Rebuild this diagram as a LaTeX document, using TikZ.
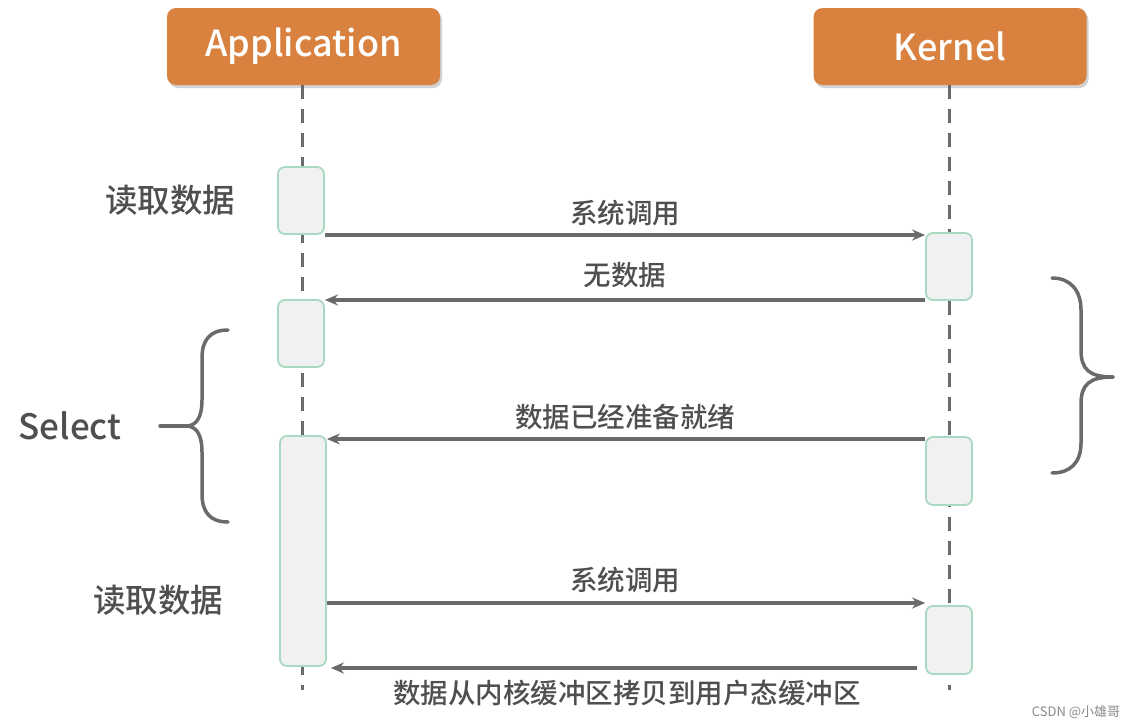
\documentclass[tikz,border=0pt]{standalone}
\usepackage{fontspec}
\setmainfont{Noto Sans CJK SC}[BoldFont={Noto Sans CJK SC Medium}]
\usetikzlibrary{shadows,arrows.meta}
\definecolor{hdr}{HTML}{D9823F}
\definecolor{ln}{HTML}{6A6A6A}
\definecolor{txt}{HTML}{4F4F4F}
\definecolor{actfill}{HTML}{F1F1F1}
\definecolor{actdraw}{HTML}{A9D9C0}
\definecolor{wm}{HTML}{8A8A8A}
\begin{document}
\begin{tikzpicture}[x=1pt,y=-1pt,
  header/.style={fill=hdr, rounded corners=9pt, text=white, font=\bfseries\fontsize{36}{40}\selectfont,
    minimum width=273pt, minimum height=77pt, inner sep=0pt,
    drop shadow={shadow xshift=2pt, shadow yshift=-3pt, opacity=0.35}},
  act/.style={draw=actdraw, fill=actfill, line width=1.8pt, rounded corners=7pt,
    minimum width=46pt, inner sep=0pt},
  life/.style={ln, line width=3pt, dash pattern=on 14pt off 10pt},
  msg/.style={ln, line width=3.2pt, -{Stealth[length=13pt,width=11pt]}},
  lbl/.style={text=txt, font=\bfseries\fontsize{27.5}{30}\selectfont, inner sep=0pt},
  side/.style={text=txt, font=\bfseries\fontsize{32.5}{34}\selectfont, inner sep=0pt},
  brace/.style={ln, line width=3.5pt, line cap=round}]
\useasboundingbox[fill=white] (0,0) rectangle (1138,728);

% headers
\node[header] (app) at (303.5,46.5) {Application};
\node[header] (ker) at (950,46.5) {Kernel};

% lifelines
\coordinate (appEnd) at (302,690);
\coordinate (kerEnd) at (949,690);
\draw[life] (app.south -| appEnd) -- (appEnd);
\draw[life] (ker.south -| kerEnd) -- (kerEnd);

% activations
\node[act, minimum height=67pt] (a1) at (301,200.5) {};
\node[act, minimum height=67pt] (a2) at (301,333.5) {};
\node[act, minimum height=230pt] (a3) at (303,551) {};
\node[act, minimum height=67pt] (k1) at (949,266.5) {};
\node[act, minimum height=68pt] (k2) at (949,471) {};
\node[act, minimum height=68pt] (k3) at (949,640) {};

% messages
\draw[msg] (a1.east |- 0,235) -- (k1.west |- 0,235);
\node[lbl] (m1) at (625,213) {系统调用};
\draw[msg] (k1.west |- 0,300) -- (a2.east |- 0,300);
\node[lbl] (m2) at (625,275) {无数据};
\draw[msg] (k2.west |- 0,439) -- (a3.east |- 0,439);
\node[lbl] (m3) at (625,417) {数据已经准备就绪};
\draw[msg] (a3.east |- 0,603) -- (k3.west |- 0,603);
\node[lbl] (m4) at (625,580) {系统调用};
\draw[msg] ([xshift=-8pt]k3.west |- 0,668) -- ([xshift=4pt]a3.east |- 0,668);
\node[lbl] (m5) at (627,693) {数据从内核缓冲区拷贝到用户态缓冲区};

% side labels
\node[side] (r1) at (170,200) {读取数据};
\node[side, font=\bfseries\fontsize{35}{38}\selectfont] (sel) at (70,426) {Select};
\node[side] (r2) at (158,600) {读取数据};

% left brace
\draw[brace] (160,426) -- (186,426);
\draw[brace] (228,330) .. controls (210,330) and (202,340) .. (202,358) -- (202,400)
  .. controls (202,418) and (196,426) .. (186,426)
  .. controls (196,426) and (202,434) .. (202,452) -- (202,494)
  .. controls (202,512) and (210,522) .. (228,522);

% right brace
\draw[brace] (1052,278) .. controls (1070,278) and (1081,290) .. (1081,310) -- (1081,350)
  .. controls (1081,370) and (1090,377) .. (1113,377);
\draw[brace] (1113,377) .. controls (1090,377) and (1081,384) .. (1081,404) -- (1081,443)
  .. controls (1081,463) and (1070,473) .. (1052,473);

% watermark
\node[text=wm, font=\fontsize{13}{15}\selectfont, inner sep=0pt] (wmk) at (1076,712) {CSDN @小雄哥};
\end{tikzpicture}
\end{document}
